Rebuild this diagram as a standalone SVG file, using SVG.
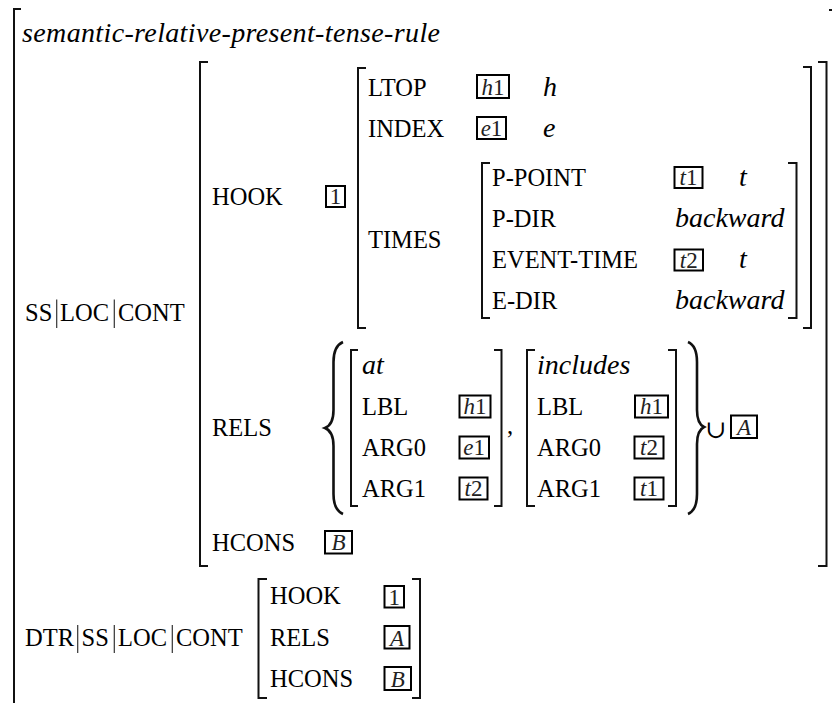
<svg xmlns="http://www.w3.org/2000/svg" width="832" height="703" viewBox="0 0 832 703">
<style>
text{font-family:'Liberation Serif','Times New Roman','DejaVu Serif',serif}
.r{font-size:24.5px;fill:#000}
.i{font-style:italic;font-size:28px;fill:#000}
.bx{font-size:23px;fill:#222;text-anchor:middle}
.m{font-style:italic}
.br{fill:none;stroke:#111;stroke-width:2}
.tag{fill:none;stroke:#000;stroke-width:2}
.bar{stroke:#333;stroke-width:1.2}
</style>
<rect width="832" height="703" fill="#fff"/>

<g id="outer">
  <path class="br" d="M21,9 H14 V710"/>
  <path class="br" d="M829,10 H833 V710"/>
  <text class="i" x="22" y="42" font-size="29" textLength="418" lengthAdjust="spacing">semantic-relative-present-tense-rule</text>
</g>

<g id="ss-loc-cont">
  <text class="r" x="25" y="321">SS</text>
  <line class="bar" x1="56.7" y1="299.5" x2="56.7" y2="328"/>
  <text class="r" x="60" y="321">LOC</text>
  <line class="bar" x1="114.3" y1="299.5" x2="114.3" y2="328"/>
  <text class="r" x="118" y="321">CONT</text>
  <path class="br" d="M208,62 H200 V566 H208"/>
  <path class="br" d="M818,62 H826.5 V566 H818"/>
</g>

<g id="hook">
  <text class="r" x="212" y="205">HOOK</text>
  <rect class="tag" x="326" y="186" width="19" height="21"/>
  <text class="bx" x="335.5" y="204">1</text>
  <path class="br" d="M366,68 H358 V328 H366"/>
  <path class="br" d="M803,67 H811 V328 H803"/>
  <text class="r" x="368" y="96">LTOP</text>
  <rect class="tag" x="477" y="75" width="32" height="23"/>
  <text class="bx" x="493" y="95"><tspan class="m">h</tspan>1</text>
  <text class="i" x="543" y="96">h</text>
  <text class="r" x="368" y="137">INDEX</text>
  <rect class="tag" x="477" y="117" width="29" height="22"/>
  <text class="bx" x="491.5" y="135.5"><tspan class="m">e</tspan>1</text>
  <text class="i" x="543" y="137">e</text>
  <text class="r" x="368" y="248">TIMES</text>
</g>

<g id="times">
  <path class="br" d="M490,163 H482 V318 H490"/>
  <path class="br" d="M788,163 H796.5 V318 H788"/>
  <text class="r" x="492" y="186">P-POINT</text>
  <rect class="tag" x="674.5" y="167" width="28" height="21"/>
  <text class="bx" x="688.5" y="185"><tspan class="m">t</tspan>1</text>
  <text class="i" x="739" y="186">t</text>
  <text class="r" x="492" y="227">P-DIR</text>
  <text class="i" x="675" y="227">backward</text>
  <text class="r" x="492" y="268">EVENT-TIME</text>
  <rect class="tag" x="674.5" y="249.5" width="28.5" height="21"/>
  <text class="bx" x="688.7" y="267.5"><tspan class="m">t</tspan>2</text>
  <text class="i" x="739" y="268">t</text>
  <text class="r" x="492" y="309">E-DIR</text>
  <text class="i" x="675" y="309">backward</text>
</g>

<g id="rels">
  <text class="r" x="212" y="436">RELS</text>
  <path fill="none" stroke="#111" stroke-width="2.6" d="M343,342 C336,345 333.5,352 333.5,362 L333.5,410 C333.5,420 330,426 325,428 C330,430 333.5,436 333.5,446 L333.5,494 C333.5,504 336,511 343,514"/>
  <path fill="none" stroke="#111" stroke-width="2.6" d="M688,342 C695,345 697,352 697,362 L697,410 C697,420 700,425 704,427 C700,429 697,434 697,444 L697,494 C697,504 695,511 688,514"/>
  <text x="705" y="438" style="font-family:'DejaVu Serif',serif" font-size="25" fill="#000">∪</text>
  <rect class="tag" x="731" y="415.5" width="26" height="22.5"/>
  <text class="bx" x="744" y="435"><tspan class="m">A</tspan></text>
</g>

<g id="rel-at">
  <path class="br" d="M358,350 H351 V506 H358"/>
  <path class="br" d="M494,350 H501.5 V506 H494"/>
  <text class="i" x="362" y="373.5">at</text>
  <text class="r" x="362" y="414.5">LBL</text>
  <rect class="tag" x="459.5" y="395.5" width="31" height="22"/>
  <text class="bx" x="475" y="414"><tspan class="m">h</tspan>1</text>
  <text class="r" x="362" y="455.5">ARG0</text>
  <rect class="tag" x="459.5" y="436.5" width="29.5" height="22"/>
  <text class="bx" x="474.2" y="455"><tspan class="m">e</tspan>1</text>
  <text class="r" x="362" y="496.5">ARG1</text>
  <rect class="tag" x="459.5" y="477.5" width="28" height="22"/>
  <text class="bx" x="473.5" y="496"><tspan class="m">t</tspan>2</text>
  <text class="r" x="507" y="434">,</text>
</g>

<g id="rel-includes">
  <path class="br" d="M535,350 H527 V506 H535"/>
  <path class="br" d="M668,350 H676 V506 H668"/>
  <text class="i" x="537" y="373.5">includes</text>
  <text class="r" x="537" y="414.5">LBL</text>
  <rect class="tag" x="635" y="395.5" width="33" height="22"/>
  <text class="bx" x="651.5" y="414"><tspan class="m">h</tspan>1</text>
  <text class="r" x="537" y="455.5">ARG0</text>
  <rect class="tag" x="634.5" y="436.5" width="29" height="22"/>
  <text class="bx" x="649" y="455"><tspan class="m">t</tspan>2</text>
  <text class="r" x="537" y="496.5">ARG1</text>
  <rect class="tag" x="634.5" y="477.5" width="29" height="22"/>
  <text class="bx" x="649" y="496"><tspan class="m">t</tspan>1</text>
</g>

<g id="hcons">
  <text class="r" x="212" y="551">HCONS</text>
  <rect class="tag" x="325" y="531" width="27" height="22.5"/>
  <text class="bx" x="338.5" y="550"><tspan class="m">B</tspan></text>
</g>

<g id="dtr">
  <text class="r" x="25" y="646">DTR</text>
  <line class="bar" x1="77.7" y1="625" x2="77.7" y2="653"/>
  <text class="r" x="81.5" y="646">SS</text>
  <line class="bar" x1="114.3" y1="625" x2="114.3" y2="653"/>
  <text class="r" x="118" y="646">LOC</text>
  <line class="bar" x1="172.3" y1="625" x2="172.3" y2="653"/>
  <text class="r" x="176" y="646">CONT</text>
  <path class="br" d="M267,579 H258.5 V698 H267"/>
  <path class="br" d="M412,579 H420 V698 H412"/>
  <text class="r" x="270" y="604">HOOK</text>
  <rect class="tag" x="384.5" y="586" width="19.5" height="21.5"/>
  <text class="bx" x="394.2" y="604.5">1</text>
  <text class="r" x="270" y="646">RELS</text>
  <rect class="tag" x="384.5" y="626" width="25" height="22.5"/>
  <text class="bx" x="397" y="645.5"><tspan class="m">A</tspan></text>
  <text class="r" x="270" y="687">HCONS</text>
  <rect class="tag" x="384.5" y="667" width="26.5" height="23"/>
  <text class="bx" x="397.7" y="687"><tspan class="m">B</tspan></text>
</g>
</svg>
